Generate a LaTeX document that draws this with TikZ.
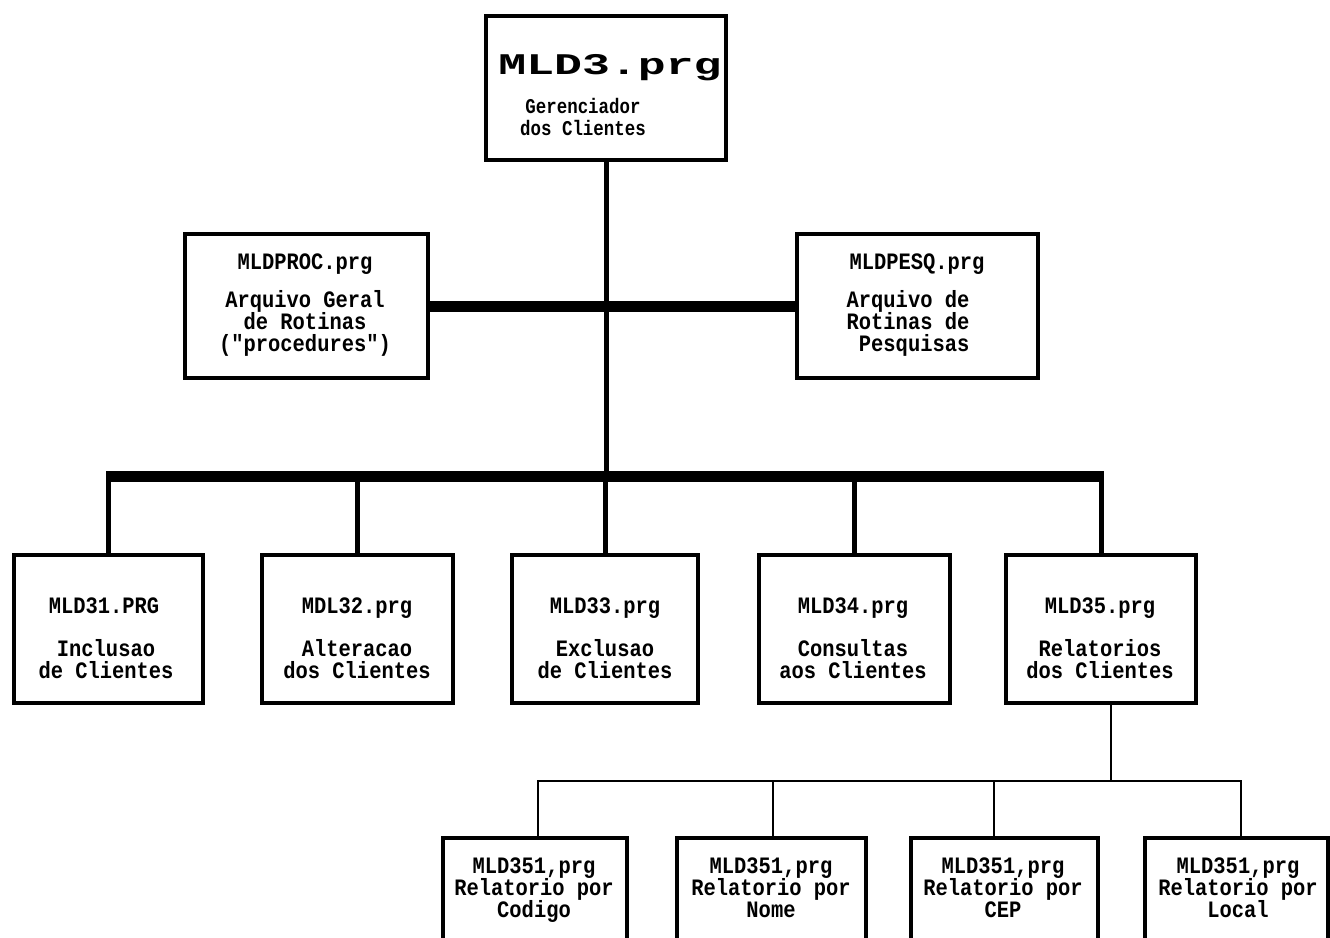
\documentclass[tikz,border=0pt]{standalone}
\usepackage{fontspec}
\newfontfamily\dotfont[FakeStretch=0.87]{Liberation Mono}
\newfontfamily\smalldot[FakeStretch=0.83]{Liberation Mono}
\newfontfamily\widefont[FakeStretch=1.55]{Liberation Mono}
\newcommand\ph{\vphantom{(}}
\newcommand\tightlines{\lineskiplimit=-100pt\relax}
\usetikzlibrary{calc}
\begin{document}
\begin{tikzpicture}[x=1pt,y=-1pt,
  box/.style={draw, line width=4pt, inner sep=0pt},
  txt/.style={font=\dotfont\bfseries\fontsize{23.5}{22}\selectfont\tightlines, align=center, inner sep=0pt},
  small/.style={font=\smalldot\bfseries\fontsize{21}{22}\selectfont\tightlines, align=center, inner sep=0pt},
  big/.style={font=\widefont\bfseries\fontsize{30}{30}\selectfont, inner sep=0pt},
  bus/.style={line width=11pt},
  bar/.style={line width=11pt},
  drop/.style={line width=5pt},
  thinline/.style={line width=2pt}]
\useasboundingbox (0,0) rectangle (1330,937);
\clip (0,0) rectangle (1330,937);

% boxes
\node[box, minimum width=240pt, minimum height=144pt] (top) at (606,88) {};
\node[box, minimum width=243pt, minimum height=144pt] (proc) at (306.5,306) {};
\node[box, minimum width=241pt, minimum height=144pt] (pesq) at (917.5,306) {};

\node[box, minimum width=189pt, minimum height=148pt] (m1) at (108.5,629) {};
\node[box, minimum width=191pt, minimum height=148pt] (m2) at (357.5,629) {};
\node[box, minimum width=186pt, minimum height=148pt] (m3) at (605,629) {};
\node[box, minimum width=191pt, minimum height=148pt] (m4) at (854.5,629) {};
\node[box, minimum width=190pt, minimum height=148pt] (m5) at (1101,629) {};

\node[box, minimum width=184pt, minimum height=162pt] (r1) at (535,919) {};
\node[box, minimum width=189pt, minimum height=162pt] (r2) at (771.5,919) {};
\node[box, minimum width=187pt, minimum height=162pt] (r3) at (1004.5,919) {};
\node[box, minimum width=183pt, minimum height=162pt] (r4) at (1236.5,919) {};

% connectors
\coordinate (busy) at (0,476);
\draw[drop] (top.south) -- (top.south |- busy);
\draw[bar] (proc.east) -- (pesq.west);
\draw[bus, shorten <=-2.5pt, shorten >=-2.5pt] (m1.north |- busy) -- (m5.north |- busy);
\foreach \m in {m1,m2,m3,m4,m5}{
  \draw[drop] (\m.north) -- (\m.north |- busy);
}
\coordinate (fork) at (1111,781);
\coordinate (f1) at (538,781);
\coordinate (f2) at (773,781);
\coordinate (f3) at (994,781);
\coordinate (f4) at (1241,781);
\draw[thinline] (m5.south -| fork) -- (fork);
\draw[thinline, shorten <=-1pt, shorten >=-1pt] (f1) -- (f4);
\draw[thinline] (f1) -- (f1 |- r1.north);
\draw[thinline] (f2) -- (f2 |- r2.north);
\draw[thinline] (f3) -- (f3 |- r3.north);
\draw[thinline] (f4) -- (f4 |- r4.north);

% texts
\node[big] (t0) at (610,67) {\ph MLD3.prg};
\node[small] (t0b) at (583,119) {\ph Gerenciador\\\ph dos Clientes};

\node[txt] (p1) at (305,263) {\ph MLDPROC.prg};
\node[txt] (p2) at (305,323) {\ph Arquivo Geral\\\ph de Rotinas\\\ph("procedures")};
\node[txt] (q1) at (917,263) {\ph MLDPESQ.prg};
\node[txt, align=left] (q2) at (908,323) {\ph Arquivo de\\\ph Rotinas de\\\ph~Pesquisas};

\node[txt] (m1a) at (104,607) {\ph MLD31.PRG};
\node[txt] (m1b) at (106,661.5) {\ph Inclusao\\\ph de Clientes};
\node[txt] (m2a) at (357,607) {\ph MDL32.prg};
\node[txt] (m2b) at (357,661.5) {\ph Alteracao\\\ph dos Clientes};
\node[txt] (m3a) at (605,607) {\ph MLD33.prg};
\node[txt] (m3b) at (605,661.5) {\ph Exclusao\\\ph de Clientes};
\node[txt] (m4a) at (853,607) {\ph MLD34.prg};
\node[txt] (m4b) at (853,661.5) {\ph Consultas\\\ph aos Clientes};
\node[txt] (m5a) at (1100,607) {\ph MLD35.prg};
\node[txt] (m5b) at (1100,661.5) {\ph Relatorios\\\ph dos Clientes};

\node[txt] (r1t) at (534,889) {\ph MLD351,prg\\\ph Relatorio por\\\ph Codigo};
\node[txt] (r2t) at (771,889) {\ph MLD351,prg\\\ph Relatorio por\\\ph Nome};
\node[txt] (r3t) at (1003,889) {\ph MLD351,prg\\\ph Relatorio por\\\ph CEP};
\node[txt] (r4t) at (1238,889) {\ph MLD351,prg\\\ph Relatorio por\\\ph Local};
\end{tikzpicture}
\end{document}
